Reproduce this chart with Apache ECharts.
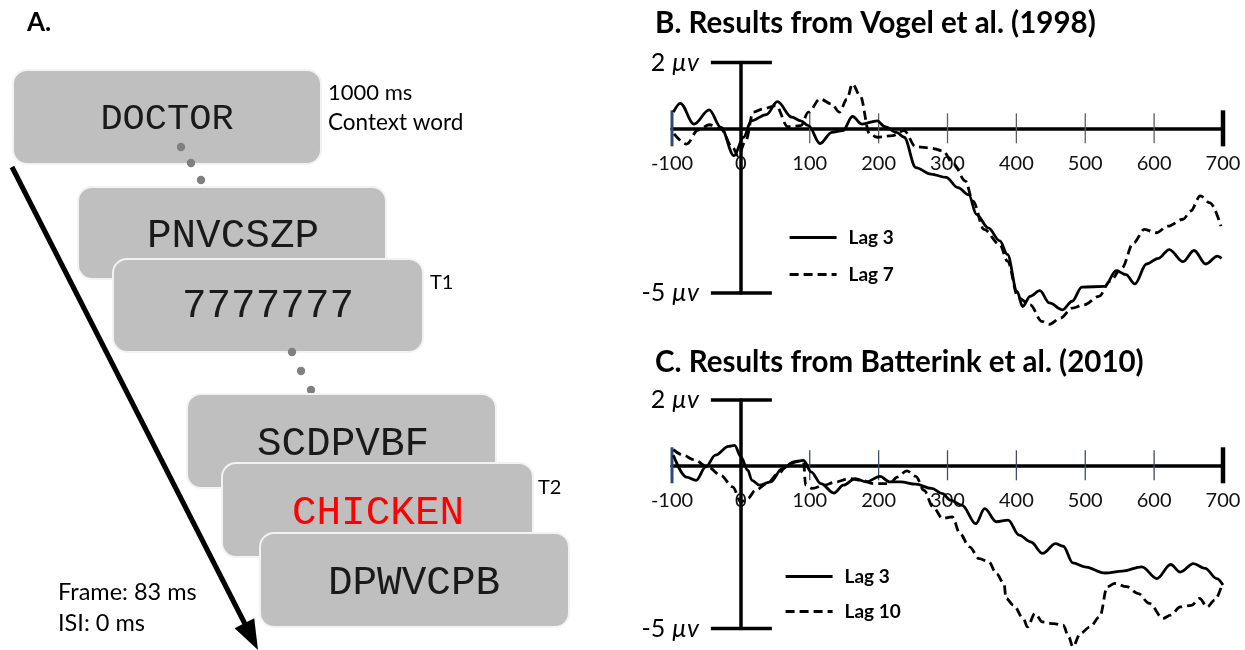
<!DOCTYPE html>
<html>
<head>
<meta charset="utf-8">
<title>Attentional blink ERP</title>
<script src="https://cdn.jsdelivr.net/npm/echarts@6/dist/echarts.min.js"></script>
<style>
  html, body { margin: 0; padding: 0; background: #fff; }
  #chart { width: 1245px; height: 650px; }
</style>
</head>
<body>
<div id="chart"></div>
<script>
// ---- Data -------------------------------------------------------------
// Time axis (ms) and tick labels
const X_MIN = -100;
const X_MAX = 700;
const xTickVals = [-100, 0, 100, 200, 300, 400, 500, 600, 700];
const xTickLabels = ['-100', '0', '100', '200', '300', '400', '500', '600', '700'];
// Voltage scale bars (µV) and their labels
const yCapVals = [2, -5];
const yCapNums = ['2', '-5'];
const yUnit = 'µv';

// Panel B: Vogel et al. (1998), ERP amplitude (µV) over time (ms)
const bLag3Time = [-98,-88,-68,-46,-29,-10,4,15,37,53,74,87,98,115,132,148,162,176,198,209,226,237,254,276,298,315,331,342,359,376,387,401,409,420,434,448,467,481,495,528,545,559,572,589,606,622,642,658,675,692,698];
const bLag3Vals = [0.49,0.76,0.13,0.56,0.03,-0.83,-0.27,0.23,0.42,0.81,0.34,0.23,0.08,-0.46,-0.12,-0.07,0.36,0.13,0.23,0.05,-0.12,-0.27,-1.19,-1.39,-1.49,-1.80,-2.02,-2.61,-3.02,-3.42,-3.83,-4.95,-5.41,-5.10,-4.93,-5.30,-5.51,-5.25,-4.82,-4.80,-4.32,-4.44,-4.72,-4.12,-3.95,-3.68,-4.05,-3.71,-4.12,-3.88,-3.95];
const bLag7Time = [-97,-79,-62,-46,-29,-12,-4,7,18,32,51,68,87,98,115,132,143,154,162,173,187,198,220,237,254,276,293,309,326,337,353,376,387,403,420,437,448,464,481,498,520,536,553,570,586,603,620,642,653,667,681,697];
const bLag7Vals = [-0.17,-0.48,-0.05,0.11,-0.02,-0.58,-0.83,-0.38,0.49,0.59,0.69,0.05,0.08,0.49,0.89,0.74,0.49,0.89,1.35,1.00,-0.17,-0.27,-0.22,-0.07,-0.56,-0.60,-0.68,-1.09,-1.60,-2.21,-3.07,-3.53,-4.03,-5.15,-5.36,-5.86,-5.95,-5.76,-5.46,-5.36,-5.10,-4.64,-4.24,-3.48,-3.07,-3.17,-2.97,-2.76,-2.51,-2.05,-2.26,-2.97];

// Panel C: Batterink et al. (2010)
const cLag3Time = [-98,-79,-65,-51,-37,-18,-9,0,10,16,27,43,60,77,91,102,116,135,149,166,182,202,216,232,254,277,293,304,321,341,354,371,388,404,421,438,457,468,482,499,529,554,582,604,624,638,657,674,691,700];
const cLag3Vals = [0.31,-0.36,-0.46,-0.05,0.31,0.58,0.61,0.26,-0.15,-0.46,-0.61,-0.51,-0.10,0.10,0.15,-0.20,-0.56,-0.85,-0.61,-0.41,-0.51,-0.34,-0.51,-0.51,-0.58,-0.71,-0.87,-1.07,-1.22,-1.79,-1.33,-1.73,-1.68,-2.14,-2.35,-2.70,-2.40,-2.48,-2.99,-3.11,-3.30,-3.24,-3.11,-3.47,-3.04,-3.27,-3.01,-3.16,-3.47,-3.67];
const cLag10Time = [-98,-84,-68,-48,-29,-12,0,10,21,38,54,68,82,91,94,104,121,138,157,174,193,216,227,241,254,266,279,293,307,318,332,346,360,371,382,385,396,410,416,427,438,454,468,476,482,493,507,521,532,543,560,577,593,613,624,638,654,666,677,688,699];
const cLag10Vals = [0.48,0.31,0.17,-0.05,-0.31,-0.66,-1.12,-1.02,-0.77,-0.56,-0.26,0,0.13,0.10,-0.61,-0.71,-0.61,-0.51,-0.41,-0.46,-0.56,-0.56,-0.36,-0.17,-0.34,-0.77,-1.28,-1.63,-1.58,-2.09,-2.50,-2.86,-2.96,-3.32,-3.62,-4.08,-4.29,-4.69,-4.95,-4.54,-4.80,-4.85,-4.90,-5.26,-5.56,-5.15,-4.95,-4.64,-3.72,-3.62,-3.72,-3.93,-4.23,-4.69,-4.59,-4.34,-4.29,-4.08,-4.34,-4.13,-3.62];

// Panel A: RSVP stream
const frameWords = ['DOCTOR', 'PNVCSZP', '7777777', 'SCDPVBF', 'CHICKEN', 'DPWVCPB'];

// ---- Helpers ----------------------------------------------------------
const SANS = 'Lato, "Open Sans", sans-serif';
const MONO = '"Liberation Mono", "Courier New", monospace';
const zip = (t, v) => t.map((x, i) => [x, v[i]]);

// Tick marks crossing the time axis at y = 0, with their labels underneath
function tickRenderer(midColor) {
  return function (params, api) {
    const v = api.value(0);
    const p = api.coord([v, 0]);
    const isFirst = v === X_MIN, isLast = v === X_MAX;
    const half = (isFirst || isLast) ? 18 : 15;
    return {
      type: 'group',
      children: [
        { type: 'line',
          shape: { x1: p[0], y1: p[1] - half, x2: p[0], y2: p[1] + half },
          style: {
            stroke: isFirst ? '#2f4a7a' : (isLast ? '#000' : midColor),
            lineWidth: isFirst ? 3 : (isLast ? 4.5 : 1.3)
          } },
        { type: 'text', x: p[0], y: p[1] + 35,
          style: {
            text: xTickLabels[params.dataIndex],
            font: '20px ' + SANS, fill: '#111',
            align: 'center', verticalAlign: 'middle',
            textAlign: 'center', textVerticalAlign: 'middle'
          } }
      ]
    };
  };
}

// Horizontal scale-bar caps on the voltage axis, labelled on the left
function capRenderer(params, api) {
  const v = api.value(1);
  const p = api.coord([0, v]);
  return {
    type: 'group',
    children: [
      { type: 'line', shape: { x1: p[0] - 30, y1: p[1], x2: p[0] + 31, y2: p[1] },
        style: { stroke: '#000', lineWidth: 3.5 } },
      { type: 'text', x: p[0] - 42, y: p[1],
        style: {
          text: '{n|' + yCapNums[params.dataIndex] + ' }{u|' + yUnit + '}',
          align: 'right', verticalAlign: 'middle',
          textAlign: 'right', textVerticalAlign: 'middle',
          rich: {
            n: { fontFamily: SANS, fontSize: 25, fill: '#000', color: '#000' },
            u: { fontFamily: SANS, fontSize: 25, fontStyle: 'italic', fill: '#000', color: '#000' }
          }
        } }
    ]
  };
}

function panelAxes(i) {
  return {
    x: {
      gridIndex: i, type: 'value', min: X_MIN, max: X_MAX, interval: 100,
      axisLine: { onZero: true, lineStyle: { color: '#000', width: 3.5 } },
      axisTick: { show: false }, splitLine: { show: false }, axisLabel: { show: false }
    },
    y: {
      gridIndex: i, type: 'value', min: -5, max: 2, z: 3,
      axisLine: { show: true, onZero: true, lineStyle: { color: '#000', width: 3.5 } },
      axisTick: { show: false }, axisLabel: { show: false }, splitLine: { show: false }
    }
  };
}

function waveSeries(name, idx, data, dashed) {
  return {
    type: 'line', name: name, xAxisIndex: idx, yAxisIndex: idx, data: data,
    symbol: 'none', showSymbol: false, smooth: 0.35, smoothMonotone: 'x', clip: false,
    lineStyle: { color: '#000', width: 2.8, type: dashed ? [9, 5] : 'solid' },
    itemStyle: { color: '#000' }, z: 4, silent: true
  };
}

// ---- Panel A diagram --------------------------------------------------
function box(x, y, w, h) {
  return { type: 'rect', shape: { x: x, y: y, width: w, height: h, r: 14 },
           style: { fill: '#bfbfbf', stroke: '#f3f3f3', lineWidth: 2 } };
}
function word(txt, cx, cy, size, color) {
  return { type: 'text', x: cx, y: cy,
           style: { text: txt, font: size + 'px ' + MONO, fill: color || '#1a1a1a',
                    align: 'center', verticalAlign: 'middle',
                    textAlign: 'center', textVerticalAlign: 'middle' } };
}
function label(txt, x, cy, size, weight) {
  return { type: 'text', x: x, y: cy,
           style: { text: txt, font: (weight || 'normal') + ' ' + size + 'px ' + SANS, fill: '#000',
                    align: 'left', verticalAlign: 'middle',
                    textAlign: 'left', textVerticalAlign: 'middle' } };
}
function dot(cx, cy) {
  return { type: 'circle', shape: { cx: cx, cy: cy, r: 4.2 }, style: { fill: '#808080' } };
}

const graphicEls = [
  label('A.', 27, 23, 26, 'bold'),
  box(13, 70, 308, 94), word(frameWords[0], 167, 119, 37),
  dot(181, 147), dot(191, 163), dot(201, 180),
  box(78, 187, 308, 92), word(frameWords[1], 233, 236, 41),
  box(113, 259, 310, 93), word(frameWords[2], 268, 306, 41),
  dot(292, 352), dot(301, 371), dot(311, 390),
  box(187, 394, 309, 94), word(frameWords[3], 343, 444, 41),
  box(222, 463, 311, 94), word(frameWords[4], 378, 513, 41, '#ff0000'),
  box(260, 533, 309, 94), word(frameWords[5], 414, 583, 41),
  label('1000 ms', 328, 93, 22),
  label('Context word', 328, 123, 22.5),
  label('T1', 430, 283, 20),
  label('T2', 538, 488, 20),
  label('Frame: 83 ms', 58, 592, 23.5),
  label('ISI: 0 ms', 58, 623, 23.5),
  { type: 'line', shape: { x1: 12, y1: 167, x2: 245, y2: 624 },
    style: { stroke: '#000', lineWidth: 5 } },
  { type: 'polygon', shape: { points: [[258, 650], [234.6, 628.3], [254.2, 618.3]] },
    style: { fill: '#000' } },
  label('B. Results from Vogel et al. (1998)', 655, 23, 29.5, 'bold'),
  label('C. Results from Batterink et al. (2010)', 655, 362, 29.5, 'bold')
];

// ---- Chart ------------------------------------------------------------
const axB = panelAxes(0), axC = panelAxes(1);
const legendText = { fontFamily: SANS, fontWeight: 'bold', fontSize: 19, color: '#000', padding: [0, 0, 0, 7] };
const legendNoSymbol = { color: 'rgba(0,0,0,0)', borderColor: 'rgba(0,0,0,0)', borderWidth: 0, opacity: 0 };
const legendLine = { width: 3.2 };

const option = {
  animation: false,
  backgroundColor: '#fff',
  grid: [
    { left: 672, right: 22, top: 62.5, height: 230.5, outerBoundsMode: 'none', containLabel: false },
    { left: 672, right: 22, top: 400, height: 228.5, outerBoundsMode: 'none', containLabel: false }
  ],
  xAxis: [axB.x, axC.x],
  yAxis: [axB.y, axC.y],
  legend: [
    { data: ['Lag 3', 'Lag 7'], orient: 'vertical', left: 783, top: 223,
      itemWidth: 47, itemHeight: 14, itemGap: 18, selectedMode: false,
      itemStyle: legendNoSymbol, lineStyle: legendLine, textStyle: legendText },
    { data: ['Lag 3', 'Lag 10'], orient: 'vertical', left: 779, top: 562,
      itemWidth: 47, itemHeight: 14, itemGap: 16, selectedMode: false,
      itemStyle: legendNoSymbol, lineStyle: legendLine, textStyle: legendText }
  ],
  graphic: { elements: graphicEls },
  series: [
    { type: 'custom', xAxisIndex: 0, yAxisIndex: 0, data: xTickVals.map(v => [v, 0]),
      renderItem: tickRenderer('#5f5f5f'), clip: false, silent: true, z: 2 },
    { type: 'custom', xAxisIndex: 0, yAxisIndex: 0, data: yCapVals.map(v => [0, v]),
      renderItem: capRenderer, clip: false, silent: true, z: 2 },
    { type: 'custom', xAxisIndex: 1, yAxisIndex: 1, data: xTickVals.map(v => [v, 0]),
      renderItem: tickRenderer('#3e4c68'), clip: false, silent: true, z: 2 },
    { type: 'custom', xAxisIndex: 1, yAxisIndex: 1, data: yCapVals.map(v => [0, v]),
      renderItem: capRenderer, clip: false, silent: true, z: 2 },
    waveSeries('Lag 3', 0, zip(bLag3Time, bLag3Vals), false),
    waveSeries('Lag 7', 0, zip(bLag7Time, bLag7Vals), true),
    waveSeries('Lag 3', 1, zip(cLag3Time, cLag3Vals), false),
    waveSeries('Lag 10', 1, zip(cLag10Time, cLag10Vals), true)
  ]
};

const chart = echarts.init(document.getElementById('chart'), null, { renderer: 'canvas' });
chart.setOption(option);
</script>
</body>
</html>
